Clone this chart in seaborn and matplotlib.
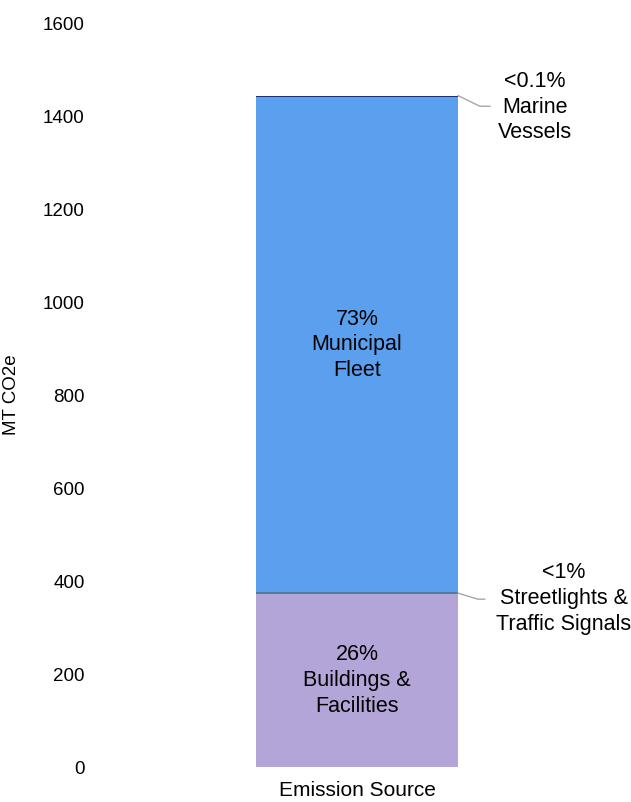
import matplotlib
matplotlib.use('Agg')
import matplotlib.pyplot as plt
import seaborn as sns
import pandas as pd
import numpy as np

# data (MT CO2e), bottom to top
sources = ['Buildings & Facilities', 'Streetlights & Traffic Signals', 'Municipal Fleet', 'Marine Vessels']
values = [372, 4, 1064, 4]
pct_labels = ['26%', '<1%', '73%', '<0.1%']
text_labels = ['26%\nBuildings &\nFacilities', '<1%\nStreetlights &\nTraffic Signals',
               '73%\nMunicipal\nFleet', '<0.1%\nMarine\nVessels']
colors = ['#b3a5d7', '#4e7d97', '#5b9fef', '#1c2f72']
category = 'Emission Source'

sns.set_style('white')
plt.rcParams['font.family'] = ['Liberation Sans', 'DejaVu Sans']
plt.rcParams.update({'text.color': 'black', 'axes.labelcolor': 'black',
                     'xtick.color': 'black', 'ytick.color': 'black'})

fig = plt.figure(figsize=(6.31, 8.02), dpi=100)
ax = fig.add_axes([0.1585, 0.0436, 0.8145, 0.9277])

tops = np.cumsum(values)
bottoms = tops - np.array(values)
bar_w = 0.393

# stacked bar: draw cumulative totals from the tallest down
for i in reversed(range(len(sources))):
    df = pd.DataFrame({'x': [category], 'y': [tops[i]]})
    sns.barplot(data=df, x='x', y='y', color=colors[i], width=bar_w,
                saturation=1, linewidth=0, ax=ax)

# labels inside the two large segments
for i in [0, 2]:
    ax.text(0, (bottoms[i] + tops[i]) / 2, text_labels[i], ha='center', va='center',
            fontsize=15.5, linespacing=1.3, color='black')

# labels for the thin segments, with leader lines
lead_col = '#a6a6a6'
ax.plot([bar_w / 2, 0.239, 0.259], [tops[3], 1421, 1421], color=lead_col, lw=1, clip_on=False)
ax.text(0.346, 1419, text_labels[3], ha='center', va='center', fontsize=15.5,
        linespacing=1.3, clip_on=False, color='black')
ax.plot([bar_w / 2, 0.235, 0.249], [tops[1] - 2, 361, 361], color=lead_col, lw=1, clip_on=False)
ax.text(0.402, 363, text_labels[1], ha='center', va='center', fontsize=15.5,
        linespacing=1.3, clip_on=False, color='black')

ax.set_xlim(-0.5, 0.5)
ax.set_ylim(0, 1600)
ax.set_yticks(range(0, 1601, 200))
ax.set_xticks([])
ax.tick_params(axis='y', length=0, pad=11, labelsize=13.5, labelcolor='black')
ax.set_xlabel(category, fontsize=15, labelpad=10, color='black')
ax.set_ylabel('MT CO2e', fontsize=13.5, color='black')
ax.yaxis.set_label_coords(-0.156, 0.5)
sns.despine(ax=ax, left=True, bottom=True)

fig.savefig('out.png', dpi=100)
